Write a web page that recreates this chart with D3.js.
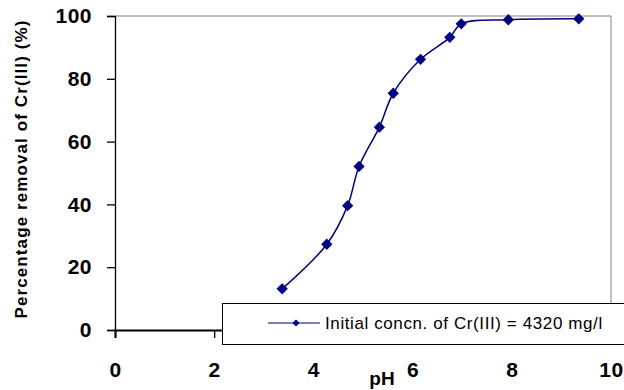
<!DOCTYPE html>
<html><head><meta charset="utf-8">
<script src="https://cdn.jsdelivr.net/npm/d3@7"></script>
<style>body{margin:0;background:#fff}svg{display:block}</style>
</head><body>
<svg id="c" width="624" height="390"></svg>
<script>
const pH = [3.37, 4.27, 4.69, 4.92, 5.33, 5.61, 6.16, 6.75, 6.98, 7.93, 9.35];
const removal = [13.1, 27.3, 39.6, 52.1, 64.6, 75.4, 86.2, 93.2, 97.5, 98.8, 99.1];
const xTicks = [0, 2, 4, 6, 8, 10];
const yTicks = [0, 20, 40, 60, 80, 100];
const seriesName = "Initial concn. of Cr(III) = 4320 mg/l";
const xTitle = "pH";
const yTitle = "Percentage removal of Cr(III)  (%)";

const svg = d3.select("#c");
const x = d3.scaleLinear().domain([0, 10]).range([115, 611]);
const y = d3.scaleLinear().domain([0, 100]).range([330, 16]);
const navy = "#000080";
const font = "Arial, 'Liberation Sans', sans-serif";

// plot border (top/right gray)
svg.append("path").attr("d", `M${x(0)},${y(100)}H${x(10)}V${y(0)}`)
  .attr("fill", "none").attr("stroke", "#808080").attr("stroke-width", 1);

// y axis
const ya = svg.append("g").attr("transform", `translate(${x(0)},0)`)
  .call(d3.axisLeft(y).tickValues(yTicks).tickSize(8).tickPadding(15));
ya.select(".domain").attr("stroke", "#000").attr("stroke-width", 1.3);
ya.selectAll(".tick line").attr("stroke", "#000").attr("stroke-width", 1.3);
ya.selectAll("text").attr("font-family", font)
  .attr("font-weight", "bold").attr("font-size", 21).attr("fill", "#000").attr("letter-spacing", 0.5);

// x axis
const xa = svg.append("g").attr("transform", `translate(0,${y(0)})`)
  .call(d3.axisBottom(x).tickValues(xTicks).tickSize(8).tickPadding(24));
xa.select(".domain").attr("stroke", "#000").attr("stroke-width", 2);
xa.selectAll(".tick line").attr("stroke", "#000").attr("stroke-width", 1.3);
xa.selectAll("text").attr("font-family", font)
  .attr("font-weight", "bold").attr("font-size", 21).attr("fill", "#000").attr("letter-spacing", 0.5);

// titles
svg.append("text").attr("x", 382).attr("y", 385).attr("text-anchor", "middle")
  .attr("font-family", font).attr("font-weight", "bold")
  .attr("font-size", 19).text(xTitle);
svg.append("text").attr("transform", "translate(27,169) rotate(-90)").attr("text-anchor", "middle")
  .attr("font-family", font).attr("font-weight", "bold")
  .attr("font-size", 17).attr("letter-spacing", 1.1).text(yTitle);

// line
const data = pH.map((v, i) => [v, removal[i]]);
svg.append("path").datum(data)
  .attr("d", d3.line().x(d => x(d[0])).y(d => y(d[1])).curve(d3.curveCatmullRom.alpha(0.5)))
  .attr("fill", "none").attr("stroke", navy).attr("stroke-width", 1.5);
const diamond = d3.symbol().type(d3.symbolSquare).size(64);
svg.selectAll(".m").data(data).join("path")
  .attr("transform", d => `translate(${x(d[0])},${y(d[1])}) rotate(45)`)
  .attr("d", diamond).attr("fill", navy);

// legend
const lg = svg.append("g");
lg.append("rect").attr("x", 222.5).attr("y", 303.5).attr("width", 420).attr("height", 41)
  .attr("fill", "#fff").attr("stroke", "#000").attr("stroke-width", 1);
lg.append("line").attr("x1", 268).attr("x2", 320).attr("y1", 323).attr("y2", 323)
  .attr("stroke", navy).attr("stroke-width", 1.2);
lg.append("path").attr("transform", "translate(296,323) rotate(45)")
  .attr("d", d3.symbol().type(d3.symbolSquare).size(26)).attr("fill", navy);
lg.append("text").attr("x", 325).attr("y", 329)
  .attr("font-family", font).attr("font-size", 17).attr("letter-spacing", 0.6)
  .text(seriesName);
</script>
</body></html>
